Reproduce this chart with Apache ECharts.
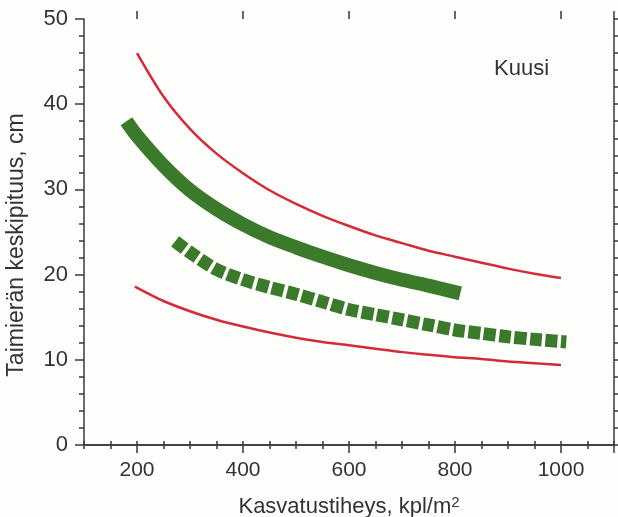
<!DOCTYPE html>
<html>
<head>
<meta charset="utf-8">
<script src="https://cdn.jsdelivr.net/npm/echarts@6/dist/echarts.min.js"></script>
<style>html,body{margin:0;padding:0;background:#fefefc}#c{width:618px;height:517px}</style>
</head>
<body>
<div id="c"></div>
<script>
const upperRed = [[200,46],[250,40.9],[300,37.1],[350,34.2],[400,31.9],[450,29.9],[500,28.3],[550,26.9],[600,25.7],[650,24.6],[700,23.7],[750,22.8],[800,22.1],[850,21.4],[900,20.7],[950,20.1],[1000,19.6]];
const lowerRed = [[196,18.6],[250,16.9],[300,15.7],[350,14.7],[400,13.9],[450,13.2],[500,12.6],[550,12.1],[600,11.7],[650,11.3],[700,10.9],[750,10.6],[800,10.3],[850,10.1],[900,9.8],[950,9.6],[1000,9.4]];
const greenSolid = [[180,38.0],[200,36.3],[250,32.8],[300,29.9],[350,27.7],[400,25.9],[450,24.4],[500,23.2],[550,22.1],[600,21.1],[650,20.2],[700,19.4],[750,18.7],[810,17.8]];
const greenDashed = [[272,23.9],[300,22.6],[350,20.6],[400,19.4],[450,18.5],[500,17.7],[550,16.8],[600,15.9],[650,15.3],[700,14.7],[750,14.1],[800,13.5],[850,13.1],[900,12.7],[950,12.4],[1010,12.1]];
const xLabelStep = 200;
const seriesLabel = 'Kuusi';
const xName = 'Kasvatustiheys, kpl/m{sup|2}';
const yName = 'Taimierän keskipituus, cm';

const axisCol = '#3a3a3a';
const font = 'Liberation Sans, Arial, sans-serif';
const chart = echarts.init(document.getElementById('c'), null, {renderer:'canvas'});
const lineAx = {show:true, lineStyle:{color:axisCol, width:1.5}};
chart.setOption({
  backgroundColor:'#fefefc',
  animation:false,
  grid:[
    {left:84, right:4, top:19, bottom:72, containLabel:false, outerBoundsMode:'none'},
    {left:137, right:4, top:19, bottom:72, containLabel:false, outerBoundsMode:'none'}
  ],
  xAxis:[
    {gridIndex:0, type:'value', position:'bottom', min:100, max:1100, interval:50,
     axisLine:lineAx, splitLine:{show:false},
     axisTick:{show:true, length:4, lineStyle:{color:axisCol, width:1.5}},
     axisLabel:{show:true, margin:15, color:'#333', fontSize:21, fontFamily:font,
       formatter:v => (v % xLabelStep === 0 && v <= 1000) ? String(v) : ''},
     name:xName, nameLocation:'middle', nameGap:50,
     nameTextStyle:{color:'#333', fontSize:22, fontFamily:font,
       rich:{sup:{fontSize:15, verticalAlign:'top', padding:[0,0,9,0], color:'#333', fontFamily:font}}}},
    {gridIndex:0, type:'value', position:'top', min:100, max:1100, interval:50,
     axisLine:lineAx, splitLine:{show:false},
     axisTick:{show:true, length:4, lineStyle:{color:axisCol, width:1.5}},
     axisLabel:{show:false}},
    {gridIndex:1, type:'value', position:'bottom', min:200, max:1100, interval:200,
     axisLine:{show:false}, splitLine:{show:false},
     axisTick:{show:true, length:8, lineStyle:{color:axisCol, width:1.5}},
     axisLabel:{show:false}},
    {gridIndex:1, type:'value', position:'top', min:200, max:1100, interval:200,
     axisLine:{show:false}, splitLine:{show:false},
     axisTick:{show:true, length:8, lineStyle:{color:axisCol, width:1.5}},
     axisLabel:{show:false}}
  ],
  yAxis:[
    {gridIndex:0, type:'value', position:'left', min:0, max:50, interval:10,
     axisLine:lineAx, splitLine:{show:false},
     axisTick:{show:true, length:9, lineStyle:{color:axisCol, width:1.5}},
     minorTick:{show:true, splitNumber:5, length:5, lineStyle:{color:axisCol, width:1.5}},
     axisLabel:{show:true, margin:16, color:'#333', fontSize:22, fontFamily:font},
     name:yName, nameLocation:'middle', nameGap:56,
     nameTextStyle:{color:'#333', fontSize:23, fontFamily:font, padding:[0,26,0,0]}},
    {gridIndex:0, type:'value', position:'right', min:0, max:50, interval:10,
     axisLine:lineAx, splitLine:{show:false},
     axisTick:{show:true, length:5, lineStyle:{color:axisCol, width:1.5}},
     minorTick:{show:true, splitNumber:5, length:4, lineStyle:{color:axisCol, width:1.5}},
     axisLabel:{show:false}},
    {gridIndex:1, type:'value', show:false, min:0, max:50}
  ],
  graphic:[
    {type:'text', left:494, top:58, style:{text:seriesLabel, fontSize:22, fontFamily:font, fill:'#333'}}
  ],
  series:[
    {type:'line', xAxisIndex:0, yAxisIndex:0, data:upperRed, showSymbol:false, smooth:0.3,
     lineStyle:{color:'#d42a3a', width:2.5}},
    {type:'line', xAxisIndex:0, yAxisIndex:0, data:lowerRed, showSymbol:false, smooth:0.3,
     lineStyle:{color:'#d42a3a', width:2.5}},
    {type:'line', xAxisIndex:0, yAxisIndex:0, data:greenSolid, showSymbol:false, smooth:0.3,
     lineStyle:{color:'#3b7a2a', width:14, cap:'butt'}},
    {type:'line', xAxisIndex:0, yAxisIndex:0, data:greenDashed, showSymbol:false, smooth:0.3,
     lineStyle:{color:'#3b7a2a', width:13, cap:'butt', type:[12,3.5]}}
  ]
});
</script>
</body>
</html>
